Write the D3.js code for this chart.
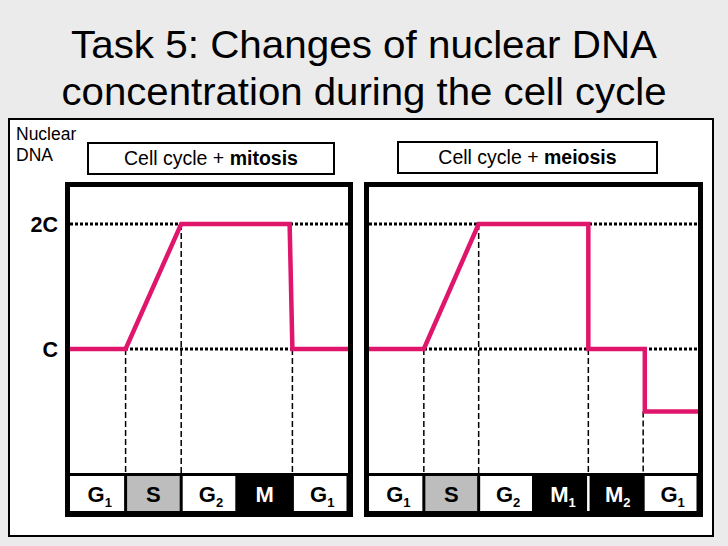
<!DOCTYPE html>
<html>
<head>
<meta charset="utf-8">
<script src="https://cdn.jsdelivr.net/npm/d3@7/dist/d3.min.js"></script>
<style>
  html, body { margin: 0; padding: 0; background: #ebebeb; }
  svg { display: block; font-family: "Liberation Sans", Arial, sans-serif; }
</style>
</head>
<body>
<div id="chart"></div>
<script>
// data
const titleLines = ["Task 5: Changes of nuclear DNA", "concentration during the cell cycle"];
const yAxisLabel = ["Nuclear", "DNA"];
const levelValues = [2, 1];
const levelLabels = ["2C", "C"];

const mitosisTitle = ["Cell cycle + ", "mitosis"];
const mitosisPhases = ["G1", "S", "G2", "M", "G1"];
// [phase position, DNA in units of C]
const mitosisDNA = [[0, 1], [1, 1], [2, 2], [3.95, 2], [4, 1], [5, 1]];
const mitosisMarks = [[1, 1], [2, 2], [4, 1]];

const meiosisTitle = ["Cell cycle + ", "meiosis"];
const meiosisPhases = ["G1", "S", "G2", "M1", "M2", "G1"];
const meiosisDNA = [[0, 1], [1, 1], [2, 2], [4, 2], [4, 1], [5.03, 1], [5.03, 0.5], [6, 0.5]];
const meiosisMarks = [[1, 1], [2, 2], [4, 1], [5, 0.5]];

const width = 728, height = 546;
const pink = "#df166b";

const svg = d3.select("#chart").append("svg").attr("width", width).attr("height", height);

svg.append("rect").attr("width", width).attr("height", height).attr("fill", "#ebebeb");

// title
svg.selectAll("text.title").data(titleLines).enter().append("text")
  .attr("class", "title")
  .attr("x", 364).attr("y", (d, i) => 58 + i * 46.5)
  .attr("text-anchor", "middle")
  .attr("font-size", 39)
  .attr("textLength", (d, i) => i == 0 ? 586 : 605)
  .attr("lengthAdjust", "spacingAndGlyphs")
  .attr("fill", "#000")
  .text(d => d);

// white sheet
svg.append("rect").attr("x", 9).attr("y", 119).attr("width", 704).attr("height", 417)
  .attr("fill", "#fff").attr("stroke", "#000").attr("stroke-width", 2);

svg.selectAll("text.ylab").data(yAxisLabel).enter().append("text")
  .attr("class", "ylab")
  .attr("x", 16).attr("y", (d, i) => 140 + i * 21)
  .attr("font-size", 17.5)
  .text(d => d);

const yScale = d3.scaleLinear().domain([0, 2]).range([474, 224]);

svg.selectAll("text.level").data(levelValues).enter().append("text")
  .attr("class", "level")
  .attr("x", 58).attr("y", d => yScale(d))
  .attr("dy", "0.36em")
  .attr("text-anchor", "end")
  .attr("font-size", 21.5).attr("font-weight", "bold")
  .text((d, i) => levelLabels[i]);

function panel(opt) {
  const g = svg.append("g");
  const x = d3.scaleLinear().domain([0, opt.phases.length]).range([opt.x0, opt.x1]);
  const top = 184.5, bottom = 514.5;

  // header box
  g.append("rect").attr("x", opt.bx0).attr("y", opt.by).attr("width", opt.bx1 - opt.bx0).attr("height", 31)
    .attr("fill", "#fff").attr("stroke", "#000").attr("stroke-width", 2);
  const t = g.append("text").attr("x", (opt.bx0 + opt.bx1) / 2).attr("y", opt.by + 22)
    .attr("text-anchor", "middle").attr("font-size", 19.5);
  t.append("tspan").text(opt.title[0]);
  t.append("tspan").attr("font-weight", "bold").text(opt.title[1]);

  // dotted level lines
  g.selectAll("line.level").data(levelValues).enter().append("line")
    .attr("x1", opt.x0).attr("x2", opt.x1)
    .attr("y1", d => yScale(d)).attr("y2", d => yScale(d))
    .attr("stroke", "#000").attr("stroke-width", 3).attr("stroke-dasharray", "3,2");

  // dashed phase boundaries
  g.selectAll("line.mark").data(opt.marks).enter().append("line")
    .attr("x1", d => x(d[0])).attr("x2", d => x(d[0]))
    .attr("y1", d => yScale(d[1])).attr("y2", yScale(0))
    .attr("stroke", "#000").attr("stroke-width", 1.5).attr("stroke-dasharray", "6,3");

  // phase bar
  g.append("rect").attr("x", opt.x0).attr("y", yScale(0) - 1).attr("width", opt.x1 - opt.x0)
    .attr("height", bottom - yScale(0) + 1).attr("fill", "#000");
  const cells = g.selectAll("g.cell").data(opt.phases).enter().append("g");
  cells.append("rect")
    .attr("x", (d, i) => x(i) + (i == 0 ? 0 : 1.5))
    .attr("y", yScale(0) + 2)
    .attr("width", (d, i) => x(i + 1) - x(i) - (i == 0 ? 1.5 : 3))
    .attr("height", 35)
    .attr("fill", d => d[0] == "M" ? "#000" : d[0] == "S" ? "#bdbdbd" : "#fff");
  const lab = cells.append("text")
    .attr("x", (d, i) => (x(i) + x(i + 1)) / 2 + (d.length > 1 ? 2 : 0))
    .attr("y", 502)
    .attr("text-anchor", "middle")
    .attr("font-size", 22).attr("font-weight", "bold")
    .attr("fill", d => d[0] == "M" ? "#fff" : "#000");
  lab.append("tspan").text(d => d[0]);
  lab.append("tspan").attr("font-size", 13).attr("dy", 5).text(d => d.slice(1));

  // white separator between consecutive M phases
  opt.phases.forEach((p, i) => {
    if (i > 0 && p[0] == "M" && opt.phases[i - 1][0] == "M") {
      g.append("line").attr("x1", x(i)).attr("x2", x(i))
        .attr("y1", yScale(0) + 2).attr("y2", yScale(0) + 37)
        .attr("stroke", "#fff").attr("stroke-width", 2.5);
    }
  });

  // DNA line
  g.append("path").datum(opt.dna)
    .attr("fill", "none").attr("stroke", pink).attr("stroke-width", 4.5)
    .attr("d", d3.line().x(d => x(d[0])).y(d => yScale(d[1])));

  // frame
  g.append("rect").attr("x", opt.x0 - 2.5).attr("y", top).attr("width", opt.x1 - opt.x0 + 5)
    .attr("height", bottom - top).attr("fill", "none").attr("stroke", "#000").attr("stroke-width", 5);
}

panel({ phases: mitosisPhases, dna: mitosisDNA, marks: mitosisMarks, title: mitosisTitle,
  x0: 70, x1: 348, bx0: 88, bx1: 334, by: 143 });
panel({ phases: meiosisPhases, dna: meiosisDNA, marks: meiosisMarks, title: meiosisTitle,
  x0: 369, x1: 698, bx0: 398, bx1: 657, by: 142 });
</script>
</body>
</html>
